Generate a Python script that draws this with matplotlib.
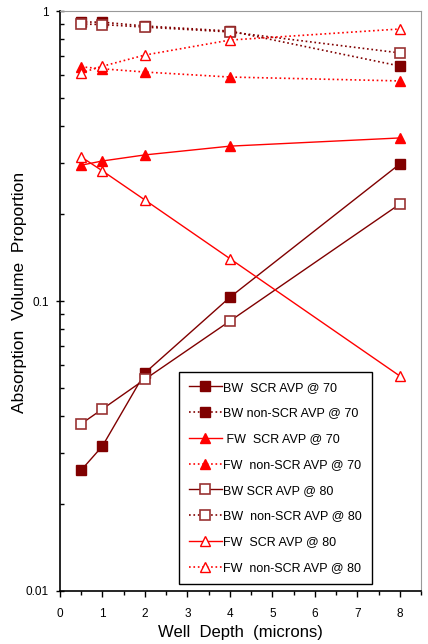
import numpy as np
import matplotlib.pyplot as plt
from matplotlib.ticker import FixedLocator, NullFormatter, MultipleLocator

plt.rcParams['font.family'] = ['Liberation Sans', 'DejaVu Sans']

# well depth (microns) and absorption volume proportion for each case
depth = [0.5, 1, 2, 4, 8]
bw_scr_70 = [0.0261, 0.0316, 0.0565, 0.103, 0.297]
bw_nonscr_70 = [0.917, 0.915, 0.888, 0.853, 0.646]
fw_scr_70 = [0.294, 0.304, 0.319, 0.342, 0.365]
fw_nonscr_70 = [0.642, 0.632, 0.616, 0.592, 0.574]
bw_scr_80 = [0.0377, 0.0424, 0.0537, 0.0853, 0.216]
bw_nonscr_80 = [0.902, 0.898, 0.880, 0.847, 0.717]
fw_scr_80 = [0.314, 0.281, 0.223, 0.140, 0.0551]
fw_nonscr_80 = [0.612, 0.645, 0.705, 0.794, 0.867]

maroon = '#800000'
red = '#ff0000'

fig = plt.figure(figsize=(4.28, 6.44), dpi=100)
ax = fig.add_axes([0.140, 0.0823, 0.844, 0.9006])

ms = 7.5
ax.plot(depth, bw_scr_70, '-', color=maroon, lw=1, marker='s', ms=ms, mfc=maroon, mec=maroon, label='BW  SCR AVP @ 70')
ax.plot(depth, bw_nonscr_70, ':', color=maroon, lw=1.2, marker='s', ms=ms, mfc=maroon, mec=maroon, label='BW non-SCR AVP @ 70')
ax.plot(depth, fw_scr_70, '-', color=red, lw=1, marker='^', ms=ms, mfc=red, mec=red, label=' FW  SCR AVP @ 70')
ax.plot(depth, fw_nonscr_70, ':', color=red, lw=1.2, marker='^', ms=ms, mfc=red, mec=red, label='FW  non-SCR AVP @ 70')
ax.plot(depth, bw_scr_80, '-', color=maroon, lw=1, marker='s', ms=ms, mfc='white', mec='#993333', mew=1.2, label='BW SCR AVP @ 80')
ax.plot(depth, bw_nonscr_80, ':', color=maroon, lw=1.2, marker='s', ms=ms, mfc='white', mec='#993333', mew=1.2, label='BW  non-SCR AVP @ 80')
ax.plot(depth, fw_scr_80, '-', color=red, lw=1, marker='^', ms=ms, mfc='white', mec=red, mew=1, label='FW  SCR AVP @ 80')
ax.plot(depth, fw_nonscr_80, ':', color=red, lw=1.2, marker='^', ms=ms, mfc='white', mec=red, mew=1, label='FW  non-SCR AVP @ 80')

ax.set_yscale('log')
ax.set_ylim(0.01, 1)
ax.set_xlim(0, 8.5)
ax.set_xticks(np.arange(0, 9))
ax.xaxis.set_minor_locator(MultipleLocator(0.5))
ax.yaxis.set_major_locator(FixedLocator([0.01, 0.1, 1]))
ax.set_yticklabels(['0.01', '0.1', '1'])
ax.yaxis.set_minor_locator(FixedLocator([k * 10.0 ** e for e in (-2, -1) for k in range(2, 10)]))
ax.yaxis.set_minor_formatter(NullFormatter())

ax.tick_params(axis='y', which='major', direction='inout', length=6, width=1, labelsize=8.5, pad=5)
ax.tick_params(axis='y', which='minor', direction='in', length=3, width=1)
ax.tick_params(axis='x', which='major', direction='out', length=4, width=1, labelsize=8.5, pad=8)
ax.tick_params(axis='x', which='minor', direction='out', length=3, width=1)
ax.spines['left'].set_linewidth(1.2)
ax.spines['bottom'].set_linewidth(1.2)
for side in ('top', 'right'):
    ax.spines[side].set_color('#999999')
    ax.spines[side].set_linewidth(0.8)

ax.set_xlabel('Well  Depth  (microns)', fontsize=12, labelpad=4)
ax.set_ylabel('Absorption  Volume  Proportion', fontsize=12.5)
ax.yaxis.set_label_coords(-0.092, 0.515)

leg = ax.legend(loc='lower left', bbox_to_anchor=(0.33, 0.012), borderaxespad=0,
                fontsize=9, handlelength=2.6, labelspacing=1.1, handletextpad=0.1,
                markerscale=0.9, fancybox=False, framealpha=1, edgecolor='black',
                borderpad=0.8)
leg.get_frame().set_linewidth(1)

fig.savefig('out.png', dpi=100)
